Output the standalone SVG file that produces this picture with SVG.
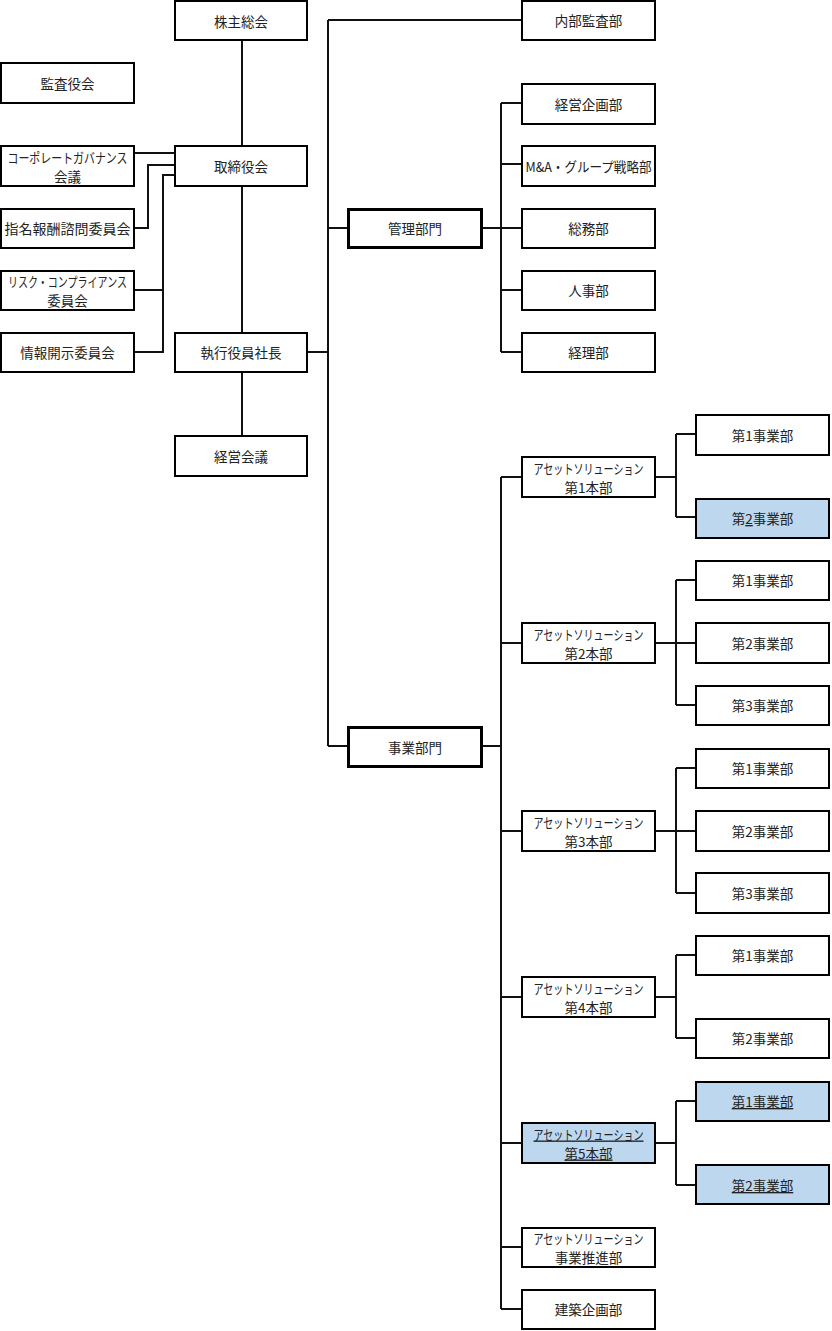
<svg xmlns="http://www.w3.org/2000/svg" width="832" height="1331" viewBox="0 0 832 1331">
<style>
.b{fill:#fff;stroke:#000;stroke-width:2}
.k{fill:#fff;stroke:#000;stroke-width:3}
.h{fill:#bdd7ee;stroke:#000;stroke-width:2}
text{font-family:"Noto Sans CJK JP","Noto Sans",sans-serif;font-size:13.5px;fill:#222;text-anchor:middle;dominant-baseline:central}
.u{text-decoration:underline}
#connectors path{fill:none;stroke:#111;stroke-width:2}
</style>
<rect width="832" height="1331" fill="#fff"/>
<g id="connectors">
<path d="M242 41V145M242 187V332M242 373V435"/>
<path d="M135 153H174M135 228H148V165H174M135 352H163V175H174M135 290H163"/>
<path d="M308 352H328M328 20V746M328 20H521M328 228H347M328 746H347"/>
<path d="M483 228H501M501 103V352M501 103H521M501 164H521M501 228H521M501 290H521M501 352H521"/>
<path d="M483 746H501M501 477V1309M501 477H521M501 643H521M501 831H521M501 997H521M501 1143H521M501 1247H521M501 1309H521"/>
<path d="M656 477H676M676 434V517M676 434H695M676 517H695"/>
<path d="M656 643H676M676 580V705M676 580H695M676 643H695M676 705H695"/>
<path d="M656 831H676M676 768V893M676 768H695M676 831H695M676 893H695"/>
<path d="M656 997H676M676 955V1038M676 955H695M676 1038H695"/>
<path d="M656 1143H676M676 1101V1185M676 1101H695M676 1185H695"/>
</g>
<g id="n1"><rect class="b" x="175" y="1" width="132" height="39"/><text x="241" y="21">株主総会</text></g>
<g id="n2"><rect class="b" x="1" y="63" width="133" height="40"/><text x="67.5" y="83">監査役会</text></g>
<g id="n3"><rect class="b" x="1" y="146" width="133" height="40"/><text x="67.5" y="157" textLength="120" lengthAdjust="spacingAndGlyphs">コーポレートガバナンス</text><text x="67.5" y="176">会議</text></g>
<g id="n4"><rect class="b" x="175" y="146" width="132" height="40"/><text x="241" y="166">取締役会</text></g>
<g id="n5"><rect class="b" x="1" y="209" width="133" height="39"/><text x="67.5" y="228" textLength="126" lengthAdjust="spacingAndGlyphs">指名報酬諮問委員会</text></g>
<g id="n6"><rect class="b" x="1" y="271" width="133" height="39"/><text x="67.5" y="281" textLength="119" lengthAdjust="spacingAndGlyphs">リスク・コンプライアンス</text><text x="67.5" y="300">委員会</text></g>
<g id="n7"><rect class="b" x="1" y="333" width="133" height="39"/><text x="67.5" y="352">情報開示委員会</text></g>
<g id="n8"><rect class="b" x="175" y="333" width="132" height="39"/><text x="241" y="352">執行役員社長</text></g>
<g id="n9"><rect class="b" x="175" y="436" width="132" height="40"/><text x="241" y="456">経営会議</text></g>
<g id="n10"><rect class="b" x="522" y="1" width="133" height="39"/><text x="588.5" y="20">内部監査部</text></g>
<g id="n11"><rect class="k" x="348.5" y="209.5" width="133" height="38"/><text x="415" y="228">管理部門</text></g>
<g id="n12"><rect class="b" x="522" y="84" width="133" height="40"/><text x="588.5" y="104">経営企画部</text></g>
<g id="n13"><rect class="b" x="522" y="146" width="133" height="40"/><text x="588.5" y="166" textLength="126" lengthAdjust="spacingAndGlyphs">M&amp;A・グループ戦略部</text></g>
<g id="n14"><rect class="b" x="522" y="209" width="133" height="39"/><text x="588.5" y="228">総務部</text></g>
<g id="n15"><rect class="b" x="522" y="271" width="133" height="39"/><text x="588.5" y="290">人事部</text></g>
<g id="n16"><rect class="b" x="522" y="333" width="133" height="39"/><text x="588.5" y="352">経理部</text></g>
<g id="n17"><rect class="k" x="348.5" y="727.5" width="133" height="39"/><text x="415" y="747">事業部門</text></g>
<g id="n18"><rect class="b" x="522" y="457" width="133" height="40"/><text x="588.5" y="467.5" textLength="110" lengthAdjust="spacingAndGlyphs">アセットソリューション</text><text x="588.5" y="486.5">第1本部</text></g>
<g id="n19"><rect class="b" x="522" y="623" width="133" height="40"/><text x="588.5" y="633.5" textLength="110" lengthAdjust="spacingAndGlyphs">アセットソリューション</text><text x="588.5" y="652.5">第2本部</text></g>
<g id="n20"><rect class="b" x="522" y="811" width="133" height="40"/><text x="588.5" y="821.5" textLength="110" lengthAdjust="spacingAndGlyphs">アセットソリューション</text><text x="588.5" y="840.5">第3本部</text></g>
<g id="n21"><rect class="b" x="522" y="977" width="133" height="40"/><text x="588.5" y="987.5" textLength="110" lengthAdjust="spacingAndGlyphs">アセットソリューション</text><text x="588.5" y="1006.5">第4本部</text></g>
<g id="n22"><rect class="h" x="522" y="1123" width="133" height="40"/><text class="u" x="588.5" y="1133.5" textLength="110" lengthAdjust="spacingAndGlyphs">アセットソリューション</text><text class="u" x="588.5" y="1152.5">第5本部</text></g>
<g id="n23"><rect class="b" x="522" y="1228" width="133" height="39"/><text x="588.5" y="1238" textLength="110" lengthAdjust="spacingAndGlyphs">アセットソリューション</text><text x="588.5" y="1257">事業推進部</text></g>
<g id="n24"><rect class="b" x="522" y="1290" width="133" height="39"/><text x="588.5" y="1309">建築企画部</text></g>
<g id="n25"><rect class="b" x="696" y="415" width="133" height="40"/><text x="762.5" y="435">第1事業部</text></g>
<g id="n26"><rect class="h" x="696" y="499" width="133" height="39"/><text x="762.5" y="518">第<tspan class="u">2</tspan>事業部</text></g>
<g id="n27"><rect class="b" x="696" y="561" width="133" height="39"/><text x="762.5" y="580">第1事業部</text></g>
<g id="n28"><rect class="b" x="696" y="623" width="133" height="40"/><text x="762.5" y="643">第2事業部</text></g>
<g id="n29"><rect class="b" x="696" y="686" width="133" height="39"/><text x="762.5" y="705">第3事業部</text></g>
<g id="n30"><rect class="b" x="696" y="749" width="133" height="39"/><text x="762.5" y="768">第1事業部</text></g>
<g id="n31"><rect class="b" x="696" y="811" width="133" height="40"/><text x="762.5" y="831">第2事業部</text></g>
<g id="n32"><rect class="b" x="696" y="873" width="133" height="40"/><text x="762.5" y="893">第3事業部</text></g>
<g id="n33"><rect class="b" x="696" y="936" width="133" height="39"/><text x="762.5" y="955">第1事業部</text></g>
<g id="n34"><rect class="b" x="696" y="1019" width="133" height="39"/><text x="762.5" y="1038">第2事業部</text></g>
<g id="n35"><rect class="h" x="696" y="1082" width="133" height="39"/><text class="u" x="762.5" y="1101">第1事業部</text></g>
<g id="n36"><rect class="h" x="696" y="1165" width="133" height="39"/><text class="u" x="762.5" y="1185">第2事業部</text></g>
</svg>
